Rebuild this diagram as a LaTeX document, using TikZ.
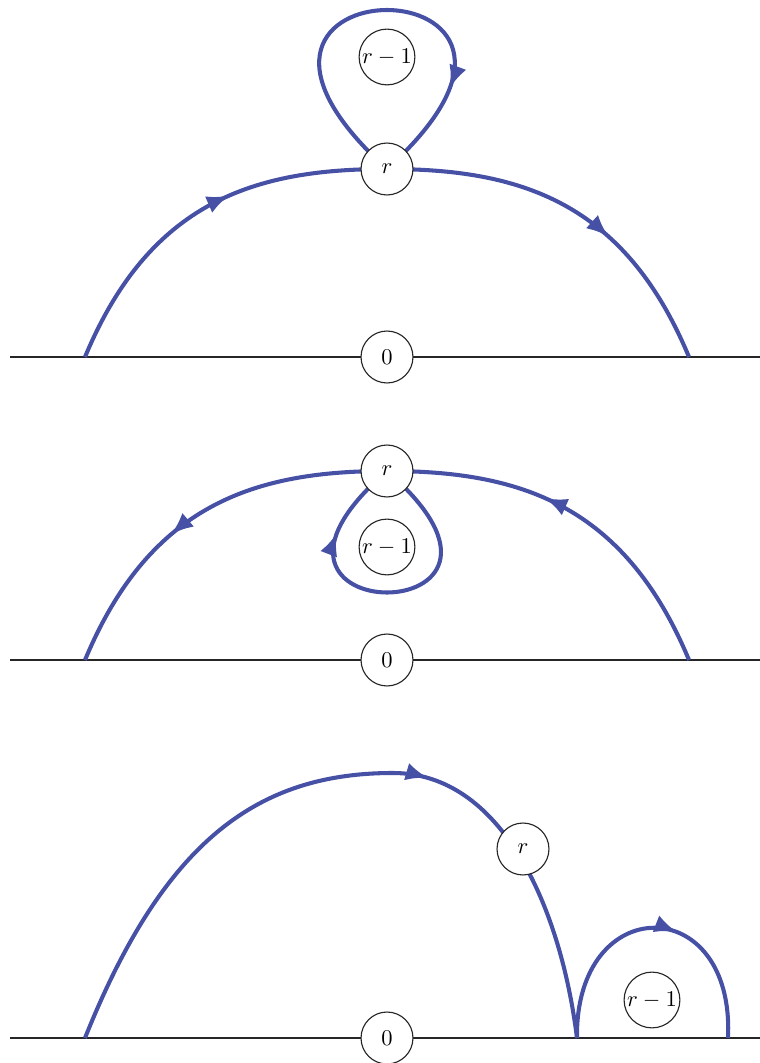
\documentclass[tikz,border=0pt]{standalone}
\usepackage{xcolor}
\usepackage{tikz}
\usetikzlibrary{arrows.meta,decorations.markings,backgrounds}
\definecolor{pathblue}{RGB}{70,80,165}

\begin{document}
\begin{tikzpicture}[
    x=0.0156cm, y=0.0156cm,
    vertex/.style={circle, draw=black!85, fill=white, line width=0.5pt, minimum size=0.81cm, inner sep=0pt},
    bigvertex/.style={vertex, minimum size=0.87cm},
    axis/.style={draw=black!85, line width=0.9pt},
    walk/.style={draw=pathblue, line width=1.8pt},
    arrowat/.style={postaction={decorate, decoration={markings, mark=at position #1 with {\arrow[pathblue]{Latex[length=10pt, width=8pt]}}}}}
]
    \useasboundingbox (0,0) rectangle (760,1063);

    % Top panel
    \node[vertex] (zero1) at (387,706) {$0$};
    \node[vertex] (r1) at (387,894) {$r$};
    \node[bigvertex] (rm1) at (387,1006) {$r-1$};
    \coordinate (left1) at (10,706);
    \coordinate (right1) at (760,706);
    \coordinate (start1) at (85,706);
    \coordinate (end1) at (689,706);

    % Middle panel
    \node[vertex] (zero2) at (387,403) {$0$};
    \node[vertex] (r2) at (387,592) {$r$};
    \node[bigvertex] (rm2) at (387,516) {$r-1$};
    \coordinate (left2) at (10,403);
    \coordinate (right2) at (760,403);
    \coordinate (start2) at (689,403);
    \coordinate (end2) at (85,403);

    % Bottom panel
    \node[vertex] (zero3) at (387,25) {$0$};
    \node[vertex] (r3) at (523,214) {$r$};
    \node[bigvertex] (rm3) at (652,63) {$r-1$};
    \coordinate (left3) at (10,25);
    \coordinate (right3) at (760,25);
    \coordinate (start3) at (85,25);
    \coordinate (top3) at (393,290);
    \coordinate (foot3) at (577,25);
    \coordinate (end3) at (728,25);

    \begin{pgfonlayer}{background}
        % Axes
        \draw[axis] (left1) -- (zero1.center) -- (right1);
        \draw[axis] (left2) -- (zero2.center) -- (right2);
        \draw[axis] (left3) -- (zero3.center) -- (right3);

        % Walks
        \draw[walk, arrowat=0.29, arrowat=0.81] (start1) .. controls (150,862) and (255,894) .. (r1.center)
            .. controls (519,894) and (624,862) .. (end1);
        \draw[walk, arrowat=0.77] (r1.center) .. controls (152,1106) and (622,1106) .. (r1.center);

        \draw[walk, arrowat=0.29, arrowat=0.8] (start2) .. controls (624,559) and (519,592) .. (r2.center)
            .. controls (255,592) and (150,559) .. (end2);
        \draw[walk, arrowat=0.77] (r2.center) .. controls (574,430) and (200,430) .. (r2.center);

        \draw[walk, arrowat=0.6] (start3) .. controls (165,225) and (260,290) .. (top3)
            .. controls (500,290) and (560,160) .. (foot3);
        \draw[walk, arrowat=0.58] (foot3) .. controls (575,172) and (735,172) .. (end3);
    \end{pgfonlayer}
\end{tikzpicture}
\end{document}
